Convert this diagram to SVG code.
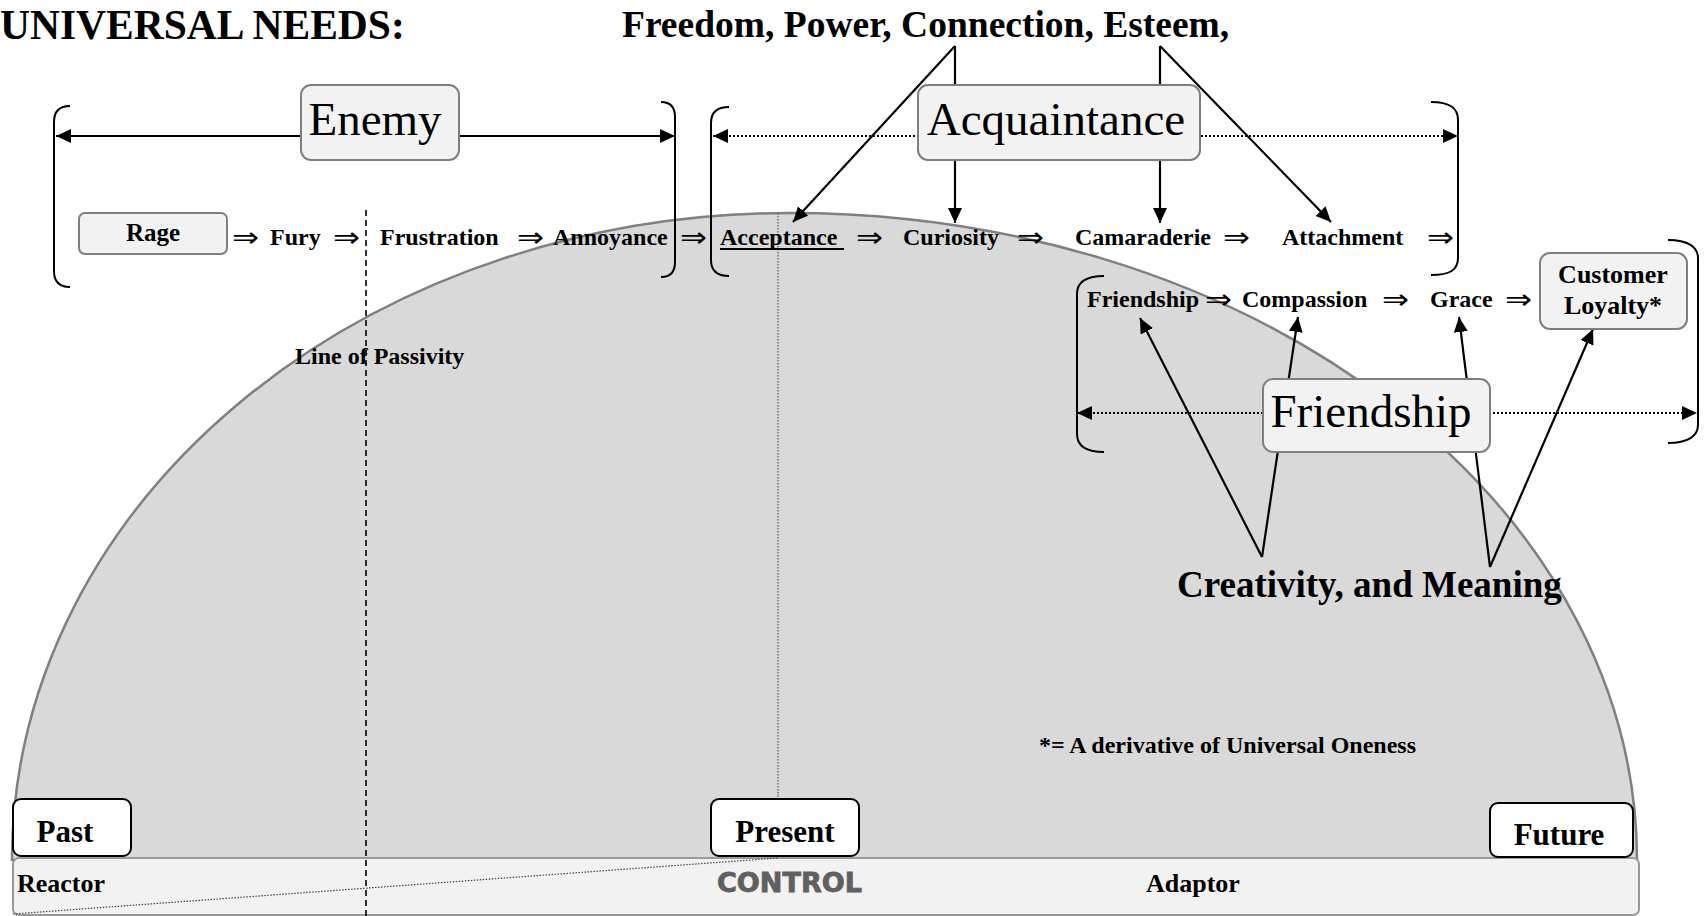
<svg xmlns="http://www.w3.org/2000/svg" width="1706" height="916" viewBox="0 0 1706 916">
<style>
.b{font-family:"Liberation Serif","Times New Roman",serif;font-weight:bold;fill:#000}
.s24{font-size:24px}
.big{font-family:"Liberation Serif","Times New Roman",serif;font-size:47px;fill:#000;text-anchor:middle}
.ar{font-family:"DejaVu Sans",sans-serif;font-size:28px;fill:#000}
.gbox{fill:#f2f2f2;stroke:#7f7f7f;stroke-width:2}
.wbox{fill:#fff;stroke:#000;stroke-width:2}
.br{fill:none;stroke:#000;stroke-width:2}
.con{fill:none;stroke:#000;stroke-width:2.2}
.dot{fill:none;stroke:#000;stroke-width:2;stroke-dasharray:2 2}
.mid{text-anchor:middle}
</style>
<defs>
<marker id="ah" markerUnits="userSpaceOnUse" markerWidth="16" markerHeight="16" refX="15" refY="7" orient="auto-start-reverse">
<path d="M0,0 L15,7 L0,14 z" fill="#000"/>
</marker>
</defs>

<g id="dome">
<path d="M12,860 A778,647 0 0 1 790,213 A847,647 0 0 1 1637,860 Z" fill="#d9d9d9" stroke="#808080" stroke-width="2.5"/>
</g>
<g id="bar">
<rect x="13" y="858" width="1626" height="57" rx="6" fill="#f2f2f2" stroke="#9a9a9a" stroke-width="2"/>
</g>
<g id="guides">
<line x1="366" y1="210" x2="366" y2="916" stroke="#000" stroke-width="1.6" stroke-dasharray="6 4"/>
<line x1="778" y1="213" x2="778" y2="858" stroke="#555" stroke-width="1.2" stroke-dasharray="1.5 1.5"/>
<line x1="13" y1="914" x2="778" y2="858" stroke="#444" stroke-width="1.2" stroke-dasharray="1.5 1.5"/>
</g>

<g id="brackets">
<path class="br" d="M70,106 Q54,106 54,122 L54,271 Q54,287 70,287"/>
<path class="br" d="M661,102 Q675,102 675,117 L675,262 Q675,277 661,277"/>
<path class="br" d="M729,107 Q711,107 711,123 L711,260 Q711,276 729,276"/>
<path class="br" d="M1431,102 C1450,102 1458,108 1458,120 L1458,258 C1458,270 1450,275 1431,275"/>
<path class="br" d="M1104,276 C1085,276 1077,283 1077,294 L1077,434 C1077,445 1085,452 1104,452"/>
<path class="br" d="M1668,240 C1688,240 1698,247 1698,258 L1698,425 C1698,436 1688,443 1668,443"/>
</g>

<g id="connectors">
<line class="con" x1="56" y1="136" x2="675" y2="136" marker-start="url(#ah)" marker-end="url(#ah)"/>
<line class="dot" x1="713" y1="136" x2="1458" y2="136" marker-start="url(#ah)" marker-end="url(#ah)"/>
<line class="dot" x1="1077" y1="413" x2="1697" y2="413" marker-start="url(#ah)" marker-end="url(#ah)"/>
<line class="con" x1="955" y1="46" x2="955" y2="223" marker-end="url(#ah)"/>
<line class="con" x1="955" y1="46" x2="793" y2="222" marker-end="url(#ah)"/>
<line class="con" x1="1160" y1="46" x2="1160" y2="223" marker-end="url(#ah)"/>
<line class="con" x1="1160" y1="46" x2="1331" y2="222" marker-end="url(#ah)"/>
<line class="con" x1="1262" y1="557" x2="1140" y2="318" marker-end="url(#ah)"/>
<line class="con" x1="1262" y1="557" x2="1298" y2="317" marker-end="url(#ah)"/>
<line class="con" x1="1490" y1="567" x2="1459" y2="317" marker-end="url(#ah)"/>
<line class="con" x1="1490" y1="567" x2="1593" y2="329" marker-end="url(#ah)"/>
</g>

<g id="title">
<text class="b" x="0" y="39" font-size="41.5">UNIVERSAL NEEDS:</text>
<text class="b" x="622" y="37" font-size="37.5">Freedom, Power, Connection, Esteem,</text>
<text class="b" x="1177" y="597" font-size="37">Creativity, and Meaning</text>
</g>

<g id="enemy">
<rect class="gbox" x="301" y="85" width="158" height="75" rx="10"/>
<text class="big" x="375" y="135">Enemy</text>
</g>
<g id="acquaintance">
<rect class="gbox" x="918" y="85" width="282" height="75" rx="10"/>
<text class="big" x="1056" y="135">Acquaintance</text>
</g>
<g id="friendship">
<rect class="gbox" x="1263" y="379" width="227" height="73" rx="10"/>
<text class="big" x="1371" y="427">Friendship</text>
</g>
<g id="rage">
<rect class="gbox" x="79" y="213" width="148" height="41" rx="6"/>
<text class="b mid" x="153" y="241" font-size="25">Rage</text>
</g>
<g id="customer-loyalty">
<rect class="gbox" x="1540" y="253" width="147" height="76" rx="10"/>
<text class="b mid" x="1613" y="283" font-size="26">Customer</text>
<text class="b mid" x="1613" y="314" font-size="26">Loyalty*</text>
</g>

<g id="row1">
<text class="ar" x="232" y="247" textLength="27" lengthAdjust="spacingAndGlyphs">⇒</text>
<text class="b s24" x="270" y="245">Fury</text>
<text class="ar" x="333" y="247" textLength="27" lengthAdjust="spacingAndGlyphs">⇒</text>
<text class="b s24" x="380" y="245">Frustration</text>
<text class="ar" x="517" y="247" textLength="27" lengthAdjust="spacingAndGlyphs">⇒</text>
<text class="b s24" x="553" y="245">Annoyance</text>
<text class="ar" x="680" y="247" textLength="27" lengthAdjust="spacingAndGlyphs">⇒</text>
<text class="b s24" x="720" y="245">Acceptance</text>
<line x1="720" y1="249" x2="844" y2="249" stroke="#000" stroke-width="2.2"/>
<text class="ar" x="856" y="247" textLength="27" lengthAdjust="spacingAndGlyphs">⇒</text>
<text class="b s24" x="903" y="245">Curiosity</text>
<text class="ar" x="1017" y="247" textLength="27" lengthAdjust="spacingAndGlyphs">⇒</text>
<text class="b s24" x="1075" y="245">Camaraderie</text>
<text class="ar" x="1223" y="247" textLength="27" lengthAdjust="spacingAndGlyphs">⇒</text>
<text class="b s24" x="1282" y="245">Attachment</text>
<text class="ar" x="1427" y="247" textLength="27" lengthAdjust="spacingAndGlyphs">⇒</text>
</g>

<g id="row2">
<text class="b s24" x="1087" y="307">Friendship</text>
<text class="ar" x="1205" y="309" textLength="27" lengthAdjust="spacingAndGlyphs">⇒</text>
<text class="b s24" x="1242" y="307">Compassion</text>
<text class="ar" x="1382" y="309" textLength="27" lengthAdjust="spacingAndGlyphs">⇒</text>
<text class="b s24" x="1430" y="307">Grace</text>
<text class="ar" x="1505" y="309" textLength="27" lengthAdjust="spacingAndGlyphs">⇒</text>
</g>

<g id="notes">
<text class="b s24" x="295" y="364">Line of Passivity</text>
<text class="b s24" x="1039" y="753">*= A derivative of Universal Oneness</text>
</g>

<g id="past">
<rect class="wbox" x="13" y="799" width="118" height="57" rx="8"/>
<text class="b mid" x="65" y="842" font-size="31">Past</text>
</g>
<g id="present">
<rect class="wbox" x="711" y="799" width="148" height="57" rx="8"/>
<text class="b mid" x="785" y="842" font-size="31">Present</text>
</g>
<g id="future">
<rect class="wbox" x="1490" y="803" width="143" height="54" rx="8"/>
<text class="b mid" x="1559" y="845" font-size="31">Future</text>
</g>
<g id="bar-labels">
<text class="b" x="17" y="892" font-size="26">Reactor</text>
<text x="717" y="892" font-family="'DejaVu Sans',sans-serif" font-weight="bold" font-size="26" fill="#606060" stroke="#606060" stroke-width="0.8" textLength="145" lengthAdjust="spacingAndGlyphs">CONTROL</text>
<text class="b" x="1146" y="892" font-size="26">Adaptor</text>
</g>
</svg>
